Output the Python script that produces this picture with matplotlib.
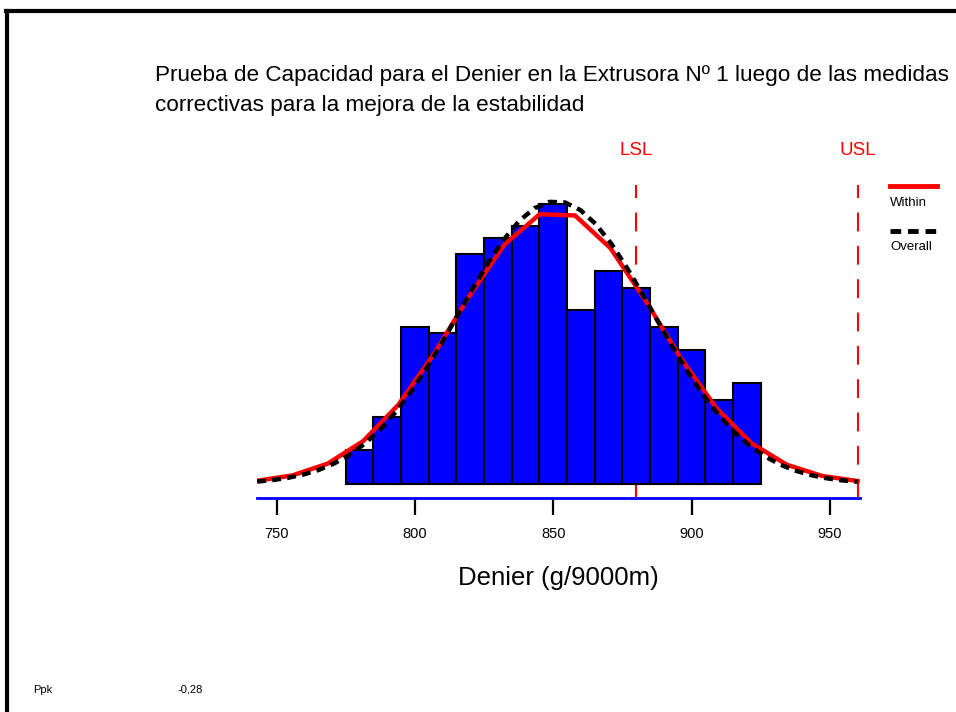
import numpy as np
import matplotlib.pyplot as plt
from matplotlib.lines import Line2D

plt.rcParams['font.family'] = ['Liberation Sans', 'DejaVu Sans']

# histogram of denier measurements (bins of 10 g/9000m)
bin_edges = [775, 785, 795, 805, 815, 825, 835, 845, 855, 865, 875, 885, 895, 905, 915, 925]
counts = [6, 12, 28, 27, 41, 44, 46, 50, 31, 38, 35, 28, 24, 15, 18]

# process stats
mean = 851.0
sigma_within = 36.2
sigma_overall = 35.0
n_obs = sum(counts)
bin_width = 10
lsl = 880
usl = 960
ppk = "-0,28"

xticks = [750, 800, 850, 900, 950]


def normal_curve(x, mu, s):
    return n_obs * bin_width * np.exp(-0.5 * ((x - mu) / s) ** 2) / (s * np.sqrt(2 * np.pi))


fig = plt.figure(figsize=(9.56, 7.12), dpi=100)
ax = fig.add_axes([0.269, 0.3006, 0.631, 0.4396])

widths = np.diff(bin_edges)
ax.bar(bin_edges[:-1], counts, width=widths, align='edge', color='#0000ff',
       edgecolor='black', linewidth=1.5, zorder=2)

xc = np.linspace(743, 960, 18)
ax.plot(xc, normal_curve(xc, mean, sigma_within), color='red', lw=3.2, zorder=3,
        solid_joinstyle='round')
xo = np.linspace(743, 960, 40)
ax.plot(xo, normal_curve(xo, mean, sigma_overall), color='black', lw=3.2,
        dashes=(2.0, 1.4), zorder=4)

# spec limits
for lim in (lsl, usl):
    ax.axvline(lim, ymin=0, ymax=1, color='red', lw=1.5, dashes=(9, 7), zorder=1)
    ax.plot([lim, lim], [-2.5, 0], color='red', lw=1.5, zorder=1)
    ax.text(lim, 59.6, 'LSL' if lim == lsl else 'USL', color='red', ha='center',
            va='center', fontsize=13.5)

ax.set_xlim(743, 961)
ax.set_ylim(-2.5, 53.4)
for side in ('left', 'right', 'top'):
    ax.spines[side].set_visible(False)
ax.spines['bottom'].set_color('#0000ff')
ax.spines['bottom'].set_linewidth(2)
ax.set_yticks([])
ax.set_xticks(xticks)
ax.tick_params(axis='x', direction='out', length=12, width=1.6, color='black',
               labelsize=10.5, pad=9)
ax.set_xlabel('Denier (g/9000m)', fontsize=18.5, labelpad=18)

fig.text(0.162, 0.894, 'Prueba de Capacidad para el Denier en la Extrusora Nº 1 luego de las medidas',
         fontsize=16.2, va='center', ha='left')
fig.text(0.162, 0.852, 'correctivas para la mejora de la estabilidad',
         fontsize=16.2, va='center', ha='left')

# legend on the right
fig.add_artist(Line2D([0.931, 0.980], [1 - 186 / 712] * 2, color='red', lw=3.5))
fig.text(0.931, 1 - 203 / 712, 'Within', fontsize=9.5, va='center', ha='left')
fig.add_artist(Line2D([0.931, 0.980], [1 - 231 / 712] * 2, color='black', lw=3.5,
                      dashes=(2.2, 1.4)))
fig.text(0.931, 1 - 247 / 712, 'Overall', fontsize=9.5, va='center', ha='left')

fig.text(33 / 956, 1 - 690 / 712, 'Ppk', fontsize=8, va='center', ha='left')
fig.text(178 / 956, 1 - 690 / 712, ppk, fontsize=8, va='center', ha='left')

# frame around the chart
fig.add_artist(Line2D([6 / 956, 1.0], [1 - 11 / 712] * 2, color='black', lw=3))
fig.add_artist(Line2D([7 / 956, 7 / 956], [0, 1 - 11 / 712], color='black', lw=3))

fig.savefig('out.png', dpi=100)
